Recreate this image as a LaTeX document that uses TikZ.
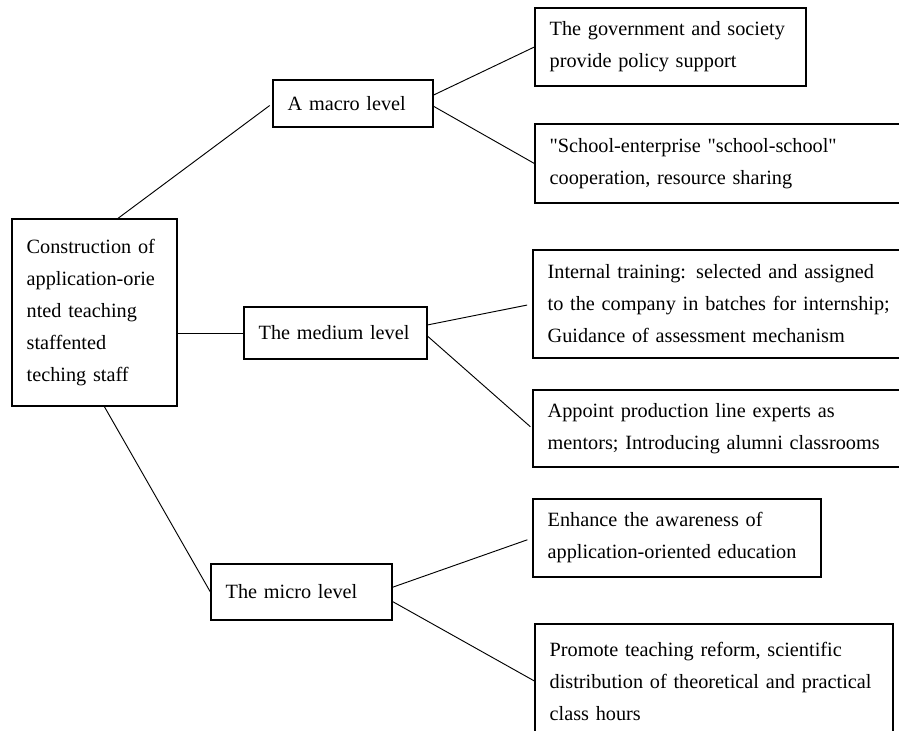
\documentclass[tikz,border=0pt]{standalone}
\usepackage{fontspec}
\setmainfont{Liberation Serif}[Ligatures=TeXOff]

\tikzset{
    lvlbox/.style={draw, line width=0.9pt, rectangle, align=left,
        inner xsep=11pt, inner ysep=0pt,
        execute at begin node={\hyphenpenalty=10000},
        font=\fontsize{15.2pt}{24pt}\selectfont},
    link/.style={line width=0.7pt}
}

\begin{document}
\begin{tikzpicture}[x=0.75pt, y=-0.75pt]
\clip (0, 0) rectangle (899, 731);

\node[lvlbox, minimum width=123.8pt, minimum height=140.3pt, text width=101.8pt]
    (root) at (94.5, 312.5)
    {Construction of\\application-orie\\nted teaching\\staffented\\teching staff};

\node[lvlbox, minimum width=120pt, minimum height=35.3pt, text width=98pt]
    (macro) at (353, 103.5) {A macro level};
\node[lvlbox, minimum width=137.3pt, minimum height=39pt, text width=115.3pt]
    (medium) at (335.5, 333) {The medium level};
\node[lvlbox, minimum width=135.8pt, minimum height=42pt, text width=113.8pt]
    (micro) at (301.5, 592) {The micro level};

\node[lvlbox, minimum width=203.3pt, minimum height=58.5pt, text width=181.3pt]
    (gov) at (670.5, 47)
    {The government and society\\provide policy support};
\node[lvlbox, minimum width=303.8pt, minimum height=59.3pt, text width=281.8pt]
    (school) at (737.5, 163.5)
    {"School-enterprise "school-school"\\cooperation, resource sharing};

\node[lvlbox, minimum width=305.3pt, minimum height=81pt, text width=283.3pt]
    (internal) at (736.5, 304)
    {Internal training: selected and assigned\\to the company in batches for internship;\\Guidance of assessment mechanism};
\node[lvlbox, minimum width=305.3pt, minimum height=57.8pt, text width=283.3pt]
    (appoint) at (736.5, 428.5)
    {Appoint production line experts as\\mentors; Introducing alumni classrooms};

\node[lvlbox, minimum width=216pt, minimum height=58.5pt, text width=194pt]
    (enhance) at (677, 538)
    {Enhance the awareness of\\application-oriented education};
\node[lvlbox, minimum width=268.5pt, minimum height=85.5pt, text width=246.5pt]
    (promote) at (714, 681)
    {Promote teaching reform, scientific\\distribution of theoretical and practical\\class hours};

% root to the three levels
\draw[link, shorten >=2.5pt] (root.76) -- (macro.west);
\draw[link] (root.east |- medium.west) -- (medium.west);
\draw[link] (root.-84) -- (micro.west);

% levels to their measures
\draw[link] (macro.6) -- (gov.west);
\draw[link] (macro.-2.5) -- (school.west);
\draw[link, shorten >=4pt] (medium.5) -- (internal.west);
\draw[link, shorten >=2pt] (medium.-2.5) -- (appoint.west);
\draw[link, shorten >=4pt] (micro.3) -- (enhance.west);
\draw[link] (micro.-6) -- (promote.west);
\end{tikzpicture}
\end{document}
